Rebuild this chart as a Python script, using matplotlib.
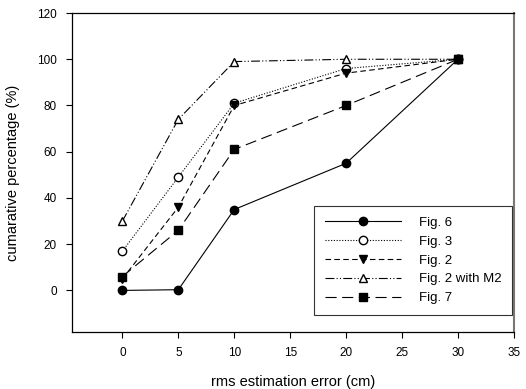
import matplotlib
matplotlib.use("Agg")
import matplotlib.pyplot as plt

x = [0, 5, 10, 20, 30]
fig6 = [0, 0.3, 35, 55, 100]
fig3 = [17, 49, 81, 96, 100]
fig2 = [5, 36, 80, 94, 100]
fig2m2 = [30, 74, 99, 100, 100]
fig7 = [6, 26, 61, 80, 100]
labels = ["Fig. 6", "Fig. 3", "Fig. 2", "Fig. 2 with M2", "Fig. 7"]
xticks = [0, 5, 10, 15, 20, 25, 30, 35]
yticks = [0, 20, 40, 60, 80, 100, 120]

plt.rcParams['font.family'] = ['Liberation Sans', 'DejaVu Sans']
fig = plt.figure(figsize=(5.26, 3.89), dpi=100)
ax = fig.add_axes([0.137, 0.1465, 0.840, 0.820])

lw = 0.8
ax.plot(x, fig6, color='black', lw=lw, ls='-', marker='o', ms=6, mfc='black', label=labels[0])
ax.plot(x, fig3, color='black', lw=lw, ls=(0, (1, 1.5)), marker='o', ms=6, mfc='white', label=labels[1])
ax.plot(x, fig2, color='black', lw=lw, ls=(0, (5, 3)), marker='v', ms=6, mfc='black', label=labels[2])
ax.plot(x, fig2m2, color='black', lw=lw, ls=(0, (8, 2, 1, 2, 1, 2)), marker='^', ms=6, mfc='white', label=labels[3])
ax.plot(x, fig7, color='black', lw=lw, ls=(0, (10, 5)), marker='s', ms=6, mfc='black', label=labels[4])

ax.set_xlim(-4.5, 35)
ax.set_ylim(-18, 120)
ax.set_xticks(xticks)
ax.set_yticks(yticks)
ax.tick_params(direction='out', labelsize=8.5, length=4, width=0.8, pad=7)
ax.tick_params(top=False, right=False)
for s in ['left', 'bottom', 'top']:
    ax.spines[s].set_linewidth(0.9)
ax.spines['right'].set_color('#777777')
ax.spines['right'].set_linewidth(1.5)

ax.set_xlabel("rms estimation error (cm)", fontsize=10.5, labelpad=11)
ax.set_ylabel("cumarative percentage (%)", fontsize=10.5, labelpad=12)

leg = ax.legend(loc='lower right', fontsize=9.5, frameon=True, fancybox=False,
                edgecolor='black', handlelength=5.8, handletextpad=1.3,
                borderpad=0.8, labelspacing=0.5,
                bbox_to_anchor=(1.01, 0.033))
leg.get_frame().set_linewidth(0.8)

fig.savefig("out.png", dpi=100)
